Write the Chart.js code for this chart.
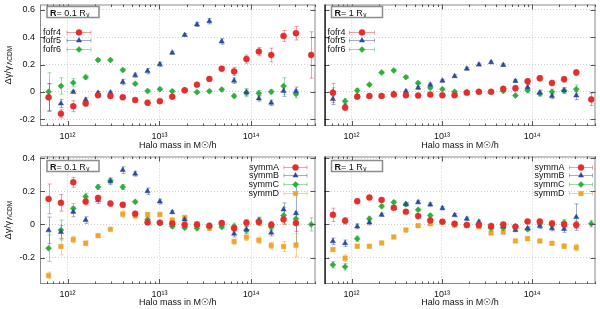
<!DOCTYPE html>
<html><head><meta charset="utf-8">
<script src="https://cdn.jsdelivr.net/npm/chart.js@4.4.0/dist/chart.umd.min.js"></script>
<style>
html,body{margin:0;padding:0;background:#fff;width:600px;height:309px;overflow:hidden}
canvas{position:absolute}
</style></head><body>
<canvas id="tl" width="320" height="152" style="left:0;top:0"></canvas>
<canvas id="tr" width="280" height="152" style="left:320px;top:0"></canvas>
<canvas id="bl" width="320" height="157" style="left:0;top:152px"></canvas>
<canvas id="br" width="280" height="157" style="left:320px;top:152px"></canvas>
<script>
// ---- categories: halo mass bins (Msun/h) ----
const haloMass = [6.21e11, 8.47e11, 1.154e12, 1.574e12, 2.147e12, 2.93e12, 3.99e12, 5.45e12, 7.43e12, 1.012e13, 1.38e13,
  1.884e13, 2.566e13, 3.5e13, 4.77e13, 6.51e13, 8.87e13, 1.211e14, 1.652e14, 2.25e14, 3.07e14, 4.5e14];
const xTickValues = [1e12, 1e13, 1e14];
const yTicksTop = [-0.2, 0, 0.2, 0.4, 0.6];
const yTicksBottom = [-0.2, 0, 0.2, 0.4];
const fofrLabels = ['fofr4', 'fofr5', 'fofr6'];
const symmLabels = ['symmA', 'symmB', 'symmC', 'symmD'];

// ---- top-left: R = 0.1 Rv ----
const fofr4Inner = [-0.04,-0.16,-0.105,-0.085,-0.025,-0.03,-0.04,-0.06,-0.08,-0.068,-0.035,0.012,0.053,0.095,0.17,0.15,0.24,0.295,0.27,0.41,0.43,0.27];
const fofr4InnerErr = [0.1,0.03,0.04,0.02,0.01,0.01,0.01,0.015,0.02,0.015,0.01,0.01,0.01,0.015,0.015,0.03,0.03,0.03,0.05,0.04,0.05,0.17];
const fofr5Inner = [-0.04,-0.085,0.0,-0.058,-0.007,-0.005,0.072,0.122,0.152,0.202,0.287,0.417,0.494,0.518,0.369,0.082,-0.005,-0.048,-0.08,0.007,0.005,null];
const fofr5InnerErr = [0.1,0.03,0.01,0.015,0.01,0.01,0.02,0.015,0.02,0.015,0.01,0.01,0.015,0.02,0.02,0.02,0.02,0.02,0.02,0.04,0.03,null];
const fofr6Inner = [0.0,0.043,0.067,0.108,0.233,0.233,0.16,0.06,0.007,0.02,0.005,0.012,-0.002,0.005,0.017,-0.03,-0.005,-0.01,0.0,0.043,-0.015,null];
const fofr6InnerErr = [0.14,0.06,0.03,0.015,0.01,0.01,0.01,0.01,0.01,0.01,0.01,0.01,0.01,0.01,0.01,0.015,0.03,0.02,0.015,0.06,0.03,null];

// ---- top-right: R = 1 Rv ----
const fofr4Outer = [-0.007,-0.115,-0.035,-0.03,-0.03,-0.02,-0.025,-0.027,-0.02,-0.025,-0.025,-0.007,0.0,0.0,0.022,0.027,0.077,0.1,0.065,0.092,0.142,-0.055];
const fofr4OuterErr = [0.07,0.02,0.015,0.01,0.01,0.01,0.01,0.01,0.01,0.01,0.01,0.01,0.01,0.01,0.01,0.02,0.02,0.02,0.02,0.02,0.02,0.045];
const fofr5Outer = [-0.053,-0.108,-0.03,-0.03,-0.03,-0.012,0.005,0.03,0.053,0.082,0.115,0.17,0.2,0.217,0.197,0.08,0.033,-0.007,-0.03,0.01,-0.027,null];
const fofr5OuterErr = [0.04,0.02,0.01,0.01,0.01,0.01,0.01,0.01,0.01,0.01,0.01,0.01,0.01,0.01,0.01,0.01,0.02,0.02,0.02,0.02,0.03,null];
const fofr6Outer = [0.0,-0.068,0.01,0.053,0.142,0.157,0.108,0.065,0.03,0.02,0.0,0.0,0.0,0.0,0.007,-0.027,0.012,-0.012,0.0,0.01,0.02,null];
const fofr6OuterErr = [0.03,0.02,0.015,0.01,0.01,0.01,0.01,0.01,0.01,0.01,0.01,0.01,0.01,0.01,0.01,0.01,0.02,0.02,0.02,0.02,0.03,null];

// ---- bottom-left: R = 0.1 Rv ----
const symmAInner = [0.154,0.13,0.254,0.138,0.16,0.126,0.118,0.064,0.012,0.01,0.006,-0.002,-0.002,-0.008,0.008,-0.024,0.01,0.014,-0.002,0.03,0.008,null];
const symmAInnerErr = [0.09,0.05,0.03,0.02,0.015,0.015,0.015,0.015,0.01,0.01,0.01,0.01,0.01,0.01,0.01,0.02,0.02,0.02,0.02,0.03,0.05,null];
const symmBInner = [-0.036,-0.046,0.076,0.026,0.146,0.26,0.328,0.306,0.2,0.138,0.074,0.03,0.0,-0.008,0.008,-0.056,-0.032,0.022,-0.05,0.09,0.068,null];
const symmBInnerErr = [0.08,0.04,0.03,0.02,0.02,0.02,0.02,0.015,0.02,0.015,0.01,0.01,0.01,0.01,0.01,0.02,0.02,0.02,0.02,0.04,0.18,null];
const symmCInner = [-0.144,-0.034,0.096,0.168,0.226,0.264,0.226,0.136,0.03,0.01,-0.012,-0.02,-0.024,-0.014,-0.016,-0.012,-0.034,0.024,-0.016,0.054,0.034,0.0];
const symmCInnerErr = [0.08,0.06,0.03,0.02,0.015,0.015,0.015,0.01,0.01,0.01,0.01,0.01,0.01,0.01,0.01,0.02,0.02,0.02,0.02,0.05,0.04,0.04];
const symmDInner = [-0.308,-0.134,-0.092,-0.114,-0.068,-0.03,0.062,0.052,0.06,0.06,0.026,0.042,0.004,-0.024,-0.004,-0.104,-0.078,-0.096,-0.128,-0.134,-0.126,null];
const symmDInnerErr = [0.02,0.05,0.02,0.015,0.01,0.01,0.02,0.015,0.01,0.01,0.01,0.01,0.01,0.01,0.01,0.015,0.02,0.02,0.02,0.03,0.07,null];

// ---- bottom-right: R = 1 Rv ----
const symmAOuter = [0.058,0.022,0.14,0.162,0.148,0.1,0.076,0.05,0.024,0.016,0.004,-0.004,-0.004,-0.01,0.0,-0.014,0.018,0.018,0.006,0.0,-0.004,null];
const symmAOuterErr = [0.04,0.02,0.015,0.01,0.01,0.01,0.01,0.01,0.01,0.01,0.01,0.01,0.01,0.01,0.01,0.01,0.01,0.01,0.015,0.02,0.02,null];
const symmBOuter = [-0.102,-0.114,-0.012,0.012,0.058,0.1,0.122,0.134,0.12,0.098,0.056,0.034,0.016,-0.012,-0.012,-0.034,-0.024,-0.01,-0.024,-0.028,0.044,null];
const symmBOuterErr = [0.02,0.02,0.015,0.015,0.01,0.01,0.01,0.01,0.01,0.01,0.01,0.01,0.01,0.01,0.01,0.01,0.01,0.015,0.015,0.02,0.08,null];
const symmCOuter = [-0.244,-0.256,-0.086,0.034,0.11,0.134,0.122,0.088,0.054,0.016,0.0,-0.002,-0.002,-0.024,-0.02,-0.012,-0.03,0.002,0.0,0.01,0.0,0.004];
const symmCOuterErr = [0.02,0.02,0.015,0.015,0.01,0.01,0.01,0.01,0.01,0.01,0.01,0.01,0.01,0.01,0.01,0.01,0.01,0.015,0.015,0.02,0.02,0.02];
const symmDOuter = [-0.152,-0.204,-0.132,-0.132,-0.112,-0.076,-0.034,-0.008,0.004,0.016,-0.004,-0.006,-0.014,-0.052,-0.046,-0.1,-0.086,-0.1,-0.114,-0.132,-0.14,null];
const symmDOuterErr = [0.01,0.02,0.01,0.01,0.01,0.01,0.01,0.01,0.01,0.01,0.01,0.01,0.01,0.01,0.01,0.01,0.01,0.01,0.01,0.015,0.02,null];

// ---- styles ----
const FONT = '"Liberation Sans", Arial, sans-serif';
const C_RED = '#e52d2d', C_BLUE = '#2a4b9b', C_GREEN = '#2fae3f', C_ORANGE = '#eea62c';
const styleOf = {
  red: {c: C_RED, e: 'rgba(229,45,45,0.45)', ps: 'circle', r: 3},
  blue: {c: C_BLUE, e: 'rgba(42,75,155,0.45)', ps: 'triangle', r: 3},
  green: {c: C_GREEN, e: 'rgba(47,174,63,0.45)', ps: 'rectRot', r: 3},
  orange: {c: C_ORANGE, e: 'rgba(238,166,44,0.5)', ps: 'rect', r: 3.2}
};
const supMap = {'0':'⁰','1':'¹','2':'²','3':'³','4':'⁴','5':'⁵','6':'⁶','7':'⁷','8':'⁸','9':'⁹'};
const sup = s => String(s).split('').map(ch => supMap[ch] || ch).join('');

function makeDataset(label, vals, errs, st) {
  const s = styleOf[st];
  return {
    label,
    data: haloMass.map((m, i) => ({x: m, y: vals[i]})),
    errors: errs,
    errColor: s.e,
    pointStyle: s.ps,
    pointRadius: s.r,
    pointBackgroundColor: s.c,
    pointBorderColor: s.c,
    pointBorderWidth: 0.5,
    showLine: false
  };
}

const decoPlugin = {
  id: 'deco',
  beforeDatasetsDraw(chart) {
    const ctx = chart.ctx, a = chart.chartArea, xs = chart.scales.x, ys = chart.scales.y;
    ctx.save();
    ctx.beginPath(); ctx.rect(a.left, a.top, a.right - a.left, a.bottom - a.top); ctx.clip();
    chart.data.datasets.forEach(ds => {
      ctx.strokeStyle = ds.errColor; ctx.lineWidth = 1;
      ds.data.forEach((p, i) => {
        const e = ds.errors[i];
        if (p.y === null || e === null || e === undefined) return;
        const px = Math.round(xs.getPixelForValue(p.x)) + 0.5;
        const y1 = ys.getPixelForValue(p.y + e), y2 = ys.getPixelForValue(p.y - e);
        ctx.beginPath();
        ctx.moveTo(px, y1); ctx.lineTo(px, y2);
        ctx.moveTo(px - 2, y1); ctx.lineTo(px + 2, y1);
        ctx.moveTo(px - 2, y2); ctx.lineTo(px + 2, y2);
        ctx.stroke();
      });
    });
    ctx.restore();
  },
  afterDraw(chart) {
    const o = chart.options.plugins.deco;
    const ctx = chart.ctx, a = chart.chartArea, xs = chart.scales.x, ys = chart.scales.y;
    ctx.save();
    // frame
    ctx.strokeStyle = '#8a8a8a'; ctx.lineWidth = 1;
    ctx.strokeRect(a.left + 0.5, a.top + 0.5, a.right - a.left - 1, a.bottom - a.top - 1);
    // ticks (inward, mirrored)
    ctx.strokeStyle = '#555';
    ctx.beginPath();
    const lmin = Math.log10(xs.min), lmax = Math.log10(xs.max);
    for (let d = Math.floor(lmin); d <= Math.ceil(lmax); d++) {
      for (let k = 1; k <= 9; k++) {
        const v = k * Math.pow(10, d);
        if (v < xs.min || v > xs.max) continue;
        const px = Math.round(xs.getPixelForValue(v)) + 0.5;
        const len = k === 1 ? 5 : 2.5;
        ctx.moveTo(px, a.bottom); ctx.lineTo(px, a.bottom - len);
        ctx.moveTo(px, a.top); ctx.lineTo(px, a.top + len);
      }
    }
    o.yTicks.forEach(v => {
      const py = Math.round(ys.getPixelForValue(v)) + 0.5;
      ctx.moveTo(a.left, py); ctx.lineTo(a.left + 5, py);
      ctx.moveTo(a.right, py); ctx.lineTo(a.right - 5, py);
    });
    ctx.stroke();
    if (o.blackLeft) {
      ctx.strokeStyle = '#000'; ctx.lineWidth = 1.2;
      ctx.beginPath(); ctx.moveTo(a.left + 0.6, a.top); ctx.lineTo(a.left + 0.6, a.bottom); ctx.stroke();
    }
    // R label box
    const bx = a.left + o.box[0], by = a.top + o.box[1];
    ctx.fillStyle = '#fff'; ctx.fillRect(bx, by, o.box[2], 11);
    ctx.strokeStyle = '#8c8c8c'; ctx.lineWidth = 1.5;
    ctx.strokeRect(bx, by, o.box[2], 11);
    ctx.fillStyle = '#111'; ctx.textBaseline = 'alphabetic'; ctx.textAlign = 'left';
    ctx.font = 'bold 9px ' + FONT;
    ctx.fillText('R', bx + 3, by + 9);
    let tx = bx + 3 + ctx.measureText('R').width;
    ctx.font = '9px ' + FONT;
    const mainTxt = '= ' + o.rText + ' R';
    ctx.fillText(mainTxt, tx, by + 9);
    tx += ctx.measureText(mainTxt).width;
    ctx.font = '6.5px ' + FONT;
    ctx.fillText('v', tx + 0.5, by + 10.5);
    // legend
    ctx.font = '9px ' + FONT; ctx.textBaseline = 'middle';
    chart.data.datasets.forEach((ds, k) => {
      const ly = Math.round(a.top + o.leg.y + k * o.leg.dy) + 0.5;
      ctx.fillStyle = '#111';
      ctx.textAlign = o.leg.align;
      ctx.fillText(ds.label, a.left + o.leg.tx, ly);
      const x1 = a.left + o.leg.l1, x2 = a.left + o.leg.l2;
      ctx.strokeStyle = ds.errColor; ctx.lineWidth = 1;
      ctx.beginPath();
      ctx.moveTo(x1, ly); ctx.lineTo(x2, ly);
      ctx.moveTo(x1, ly - 2); ctx.lineTo(x1, ly + 2);
      ctx.moveTo(x2, ly - 2); ctx.lineTo(x2, ly + 2);
      ctx.stroke();
      ctx.fillStyle = ds.pointBackgroundColor; ctx.strokeStyle = ds.pointBorderColor; ctx.lineWidth = 0.5;
      Chart.helpers.drawPoint(ctx, {pointStyle: ds.pointStyle, radius: ds.pointRadius, rotation: 0, borderWidth: 0.5}, (x1 + x2) / 2, ly);
    });
    // y title with subscript
    if (o.yTitle) {
      ctx.save();
      ctx.translate(8, (a.top + a.bottom) / 2);
      ctx.rotate(-Math.PI / 2);
      ctx.fillStyle = '#111'; ctx.textBaseline = 'middle';
      const t1 = 'Δγ/γ';
      ctx.font = '6.5px ' + FONT;
      const w2 = ctx.measureText('ΛCDM').width;
      ctx.font = '9.5px ' + FONT;
      const w1 = ctx.measureText(t1).width;
      const start = -(w1 + w2 + 1) / 2;
      ctx.textAlign = 'left';
      ctx.fillText(t1, start, 0);
      ctx.font = '6.5px ' + FONT;
      ctx.fillText('ΛCDM', start + w1 + 1, 2.5);
      ctx.restore();
    }
    ctx.restore();
  }
};

function makeChart(id, datasets, cfg) {
  return new Chart(document.getElementById(id), {
    type: 'scatter',
    data: {datasets},
    plugins: [decoPlugin],
    options: {
      responsive: false, animation: false, devicePixelRatio: 1,
      layout: {padding: {top: cfg.padTop, left: 0, right: 0, bottom: 0}},
      plugins: {
        legend: {display: false}, tooltip: {enabled: false},
        deco: cfg.deco
      },
      scales: {
        x: {
          type: 'logarithmic', min: Math.pow(10, 11.70), max: Math.pow(10, 14.70),
          afterBuildTicks: s => { s.ticks = xTickValues.map(v => ({value: v, major: true})); },
          afterFit: s => { s.height = cfg.xh; s.paddingLeft = 0; s.paddingRight = 0; s.paddingTop = 0; s.paddingBottom = 0; },
          ticks: {
            autoSkip: false, maxRotation: 0, padding: 5, color: '#111',
            font: {family: FONT, size: 9},
            callback: v => '10' + sup(Math.round(Math.log10(v)))
          },
          grid: {color: '#c4c4c4', lineWidth: 0.8, drawTicks: false},
          border: {display: false, dash: [1, 2]},
          title: {display: true, text: 'Halo mass in M☉/h', color: '#111', font: {family: FONT, size: 9}, padding: {top: 0, bottom: 1}}
        },
        y: {
          min: cfg.ymin, max: cfg.ymax,
          afterBuildTicks: s => { s.ticks = cfg.deco.yTicks.map(v => ({value: v})); },
          afterFit: s => { s.width = cfg.yw; s.paddingTop = 0; s.paddingBottom = 0; s.paddingLeft = 0; s.paddingRight = 0; },
          ticks: {
            display: cfg.yw > 0, padding: 5, color: '#111',
            font: {family: FONT, size: 9},
            callback: v => (Math.abs(v) < 1e-9 ? '0' : String(Math.round(v * 10) / 10))
          },
          grid: {color: '#c4c4c4', lineWidth: 0.8, drawTicks: false},
          border: {display: false, dash: [1, 2]}
        }
      }
    }
  });
}

const legTopLeft = {y: 27, dy: 8.5, align: 'left', tx: 3, l1: 27, l2: 51};
const legTopRight = {y: 27, dy: 8.5, align: 'left', tx: 3, l1: 25, l2: 50};
const legBotLeft = {y: 10, dy: 8.7, align: 'right', tx: 239, l1: 244, l2: 267};
const legBotRight = {y: 10, dy: 8.7, align: 'right', tx: 240, l1: 245, l2: 268};

makeChart('tl', [
  makeDataset(fofrLabels[0], fofr4Inner, fofr4InnerErr, 'red'),
  makeDataset(fofrLabels[1], fofr5Inner, fofr5InnerErr, 'blue'),
  makeDataset(fofrLabels[2], fofr6Inner, fofr6InnerErr, 'green')
], {padTop: 1, xh: 26, yw: 40, ymin: -0.25, ymax: 0.64,
    deco: {yTicks: yTicksTop, rText: '0.1', box: [7, 2, 52], leg: legTopLeft, yTitle: true, blackLeft: false}});

makeChart('tr', [
  makeDataset(fofrLabels[0], fofr4Outer, fofr4OuterErr, 'red'),
  makeDataset(fofrLabels[1], fofr5Outer, fofr5OuterErr, 'blue'),
  makeDataset(fofrLabels[2], fofr6Outer, fofr6OuterErr, 'green')
], {padTop: 1, xh: 26, yw: 0, ymin: -0.25, ymax: 0.64,
    deco: {yTicks: yTicksTop, rText: '1', box: [7, 2, 51], leg: legTopRight, yTitle: false, blackLeft: true}});

makeChart('bl', [
  makeDataset(symmLabels[0], symmAInner, symmAInnerErr, 'red'),
  makeDataset(symmLabels[1], symmBInner, symmBInnerErr, 'blue'),
  makeDataset(symmLabels[2], symmCInner, symmCInnerErr, 'green'),
  makeDataset(symmLabels[3], symmDInner, symmDInnerErr, 'orange')
], {padTop: 3, xh: 25, yw: 40, ymin: -0.36, ymax: 0.41,
    deco: {yTicks: yTicksBottom, rText: '0.1', box: [7, 4, 52], leg: legBotLeft, yTitle: true, blackLeft: false}});

makeChart('br', [
  makeDataset(symmLabels[0], symmAOuter, symmAOuterErr, 'red'),
  makeDataset(symmLabels[1], symmBOuter, symmBOuterErr, 'blue'),
  makeDataset(symmLabels[2], symmCOuter, symmCOuterErr, 'green'),
  makeDataset(symmLabels[3], symmDOuter, symmDOuterErr, 'orange')
], {padTop: 3, xh: 25, yw: 0, ymin: -0.36, ymax: 0.41,
    deco: {yTicks: yTicksBottom, rText: '1', box: [7, 4, 51], leg: legBotRight, yTitle: false, blackLeft: true}});
</script>
</body></html>
